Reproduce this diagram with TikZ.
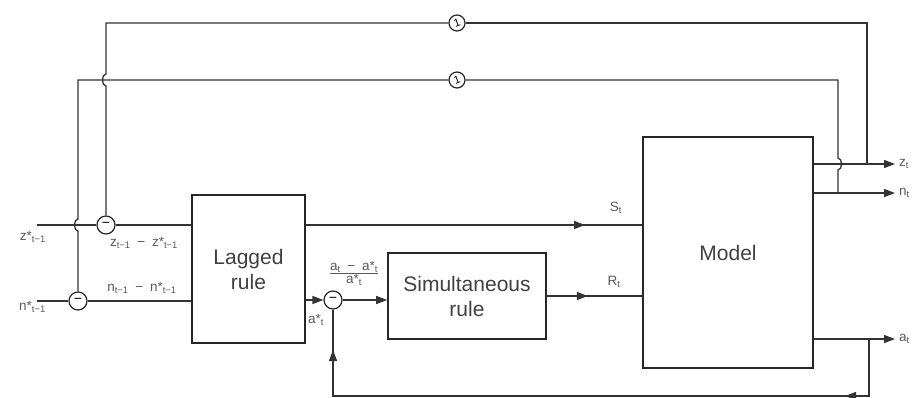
\documentclass[tikz,border=0pt]{standalone}
\usepackage{fontspec}
\setmainfont{Liberation Sans}
\usepackage{graphicx}
\usetikzlibrary{arrows.meta,decorations.markings}
\begin{document}
\begin{tikzpicture}[x=1pt,y=-1pt,
  ln/.style={draw=black!80, line width=1.3pt},
  tipend/.style={-{Triangle[length=11pt,width=8pt]}},
  box/.style={draw=black!85, line width=1.6pt, rectangle, inner sep=0pt, text=black!75,
    font=\fontsize{21}{25}\selectfont, align=center},
  subc/.style={circle, draw=black!85, line width=1.2pt, minimum size=18pt, inner sep=0pt,
    font=\fontsize{14}{14}\selectfont},
  dly/.style={circle, draw=black!85, line width=1.2pt, minimum size=16pt, inner sep=0pt,
    font=\fontsize{11}{11}\selectfont},
  lbl/.style={text=black!65, font=\fontsize{13.5}{14}\selectfont, inner sep=0pt},
  arr/.style={postaction={decorate}, decoration={markings,
    mark=at position #1 with {\arrow{Triangle[length=11pt,width=8pt]}}}},
  arrtwo/.style 2 args={postaction={decorate}, decoration={markings,
    mark=at position #1 with {\arrow{Triangle[length=11pt,width=8pt]}},
    mark=at position #2 with {\arrow{Triangle[length=11pt,width=8pt]}}}}
]
\useasboundingbox (0,0) rectangle (920,398);

% blocks
\node[box, minimum width=113pt, minimum height=148pt] (lag) at (248.5,269) {Lagged\\rule};
\node[box, minimum width=158pt, minimum height=86pt] (sim) at (467,296) {Simultaneous\\rule};
\node[box, minimum width=170pt, minimum height=231pt] (model) at (728,252.5) {Model};

% comparators and delays
\node[subc] (zc) at (106,225) {−};
\node[subc] (nc) at (78,301) {−};
\node[subc] (ac) at (333,300) {−};
\node[dly] (d1) at (457,23) {\rotatebox{20}{1}};
\node[dly] (d2) at (457,80) {\rotatebox{20}{1}};

% free ends and junctions
\coordinate (zin) at (37,225);
\coordinate (nin) at (37,301);
\coordinate (zo) at (895,164);
\coordinate (no) at (895,193);
\coordinate (ao) at (895,339);
\coordinate (zj) at (867,164);
\coordinate (nj) at (838,193);
\coordinate (aj) at (869,339);

% inputs
\draw[ln] (zin) -- (zc);
\draw[ln] (zc) -- (zc -| lag.west);
\draw[ln] (nin) -- (nc);
\draw[ln] (nc) -- (nc -| lag.west);

% feedback of z
\draw[ln] (zj) -- (867,23) -- (d1);
\draw[ln] (d1) -- (106,23) -- (106,74) to[out=180,in=180] (106,86) -- (zc);
% feedback of n
\draw[ln] (nj) -- (838,170) to[out=0,in=0] (838,158) -- (838,80) -- (d2);
\draw[ln] (d2) -- (78,80) -- (78,219) to[out=180,in=180] (78,231) -- (nc);

% forward paths
\draw[ln, arr=0.83] (zc -| lag.east) -- (zc -| model.west);
\draw[ln, tipend] (ac -| lag.east) -- (ac);
\draw[ln, tipend] (ac) -- (ac -| sim.west);
\draw[ln, arr=0.43] (sim.east) -- (sim.east -| model.west);

% outputs
\draw[ln, tipend] (model.east |- zo) -- (zo);
\draw[ln, tipend] (model.east |- no) -- (no);
\draw[ln, tipend] (model.east |- ao) -- (ao);

% bottom feedback of a
\draw[ln, arrtwo={81pt}{639pt}] (aj) -- (869,396) -- (333,396) -- (ac);

% labels
\node[lbl, anchor=east] (lz) at (46,237) {z*\textsubscript{t−1}};
\node[lbl, anchor=east] (lnn) at (46,307) {n*\textsubscript{t−1}};
\node[lbl] (dz) at (144,243) {z\textsubscript{t−1}\enspace−\enspace z*\textsubscript{t−1}};
\node[lbl] (dn) at (142,288) {n\textsubscript{t−1}\enspace−\enspace n*\textsubscript{t−1}};
\node[lbl] (fr) at (354,274) {\begin{tabular}{@{}c@{}}a\textsubscript{t}\enspace−\enspace a*\textsubscript{t}\\[-1pt]\hline a*\textsubscript{t}\end{tabular}};
\node[lbl] (as) at (316,320) {a*\textsubscript{t}};
\node[lbl] (st) at (616,208) {S\textsubscript{t}};
\node[lbl] (rt) at (614,282) {R\textsubscript{t}};
\node[lbl, anchor=west] (zt) at (899,164) {z\textsubscript{t}};
\node[lbl, anchor=west] (nt) at (899,193) {n\textsubscript{t}};
\node[lbl, anchor=west] (at) at (899,339) {a\textsubscript{t}};
\end{tikzpicture}
\end{document}
